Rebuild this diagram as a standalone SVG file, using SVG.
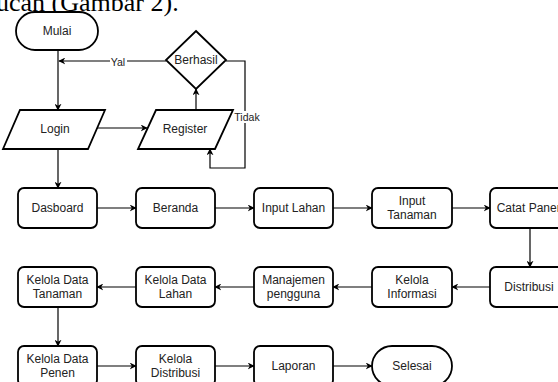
<svg xmlns="http://www.w3.org/2000/svg" width="558" height="382" viewBox="0 0 558 382">
<defs>
<style>
.n{fill:#fff;stroke:#000;stroke-width:1.8}
.t{font-family:"Liberation Sans",Arial,sans-serif;font-size:12px;fill:#222;text-anchor:middle;dominant-baseline:central}
.l{font-family:"Liberation Sans",Arial,sans-serif;font-size:10.5px;fill:#222;text-anchor:middle;dominant-baseline:central}
.c{fill:none;stroke:#000;stroke-width:1.2;marker-end:url(#a)}
</style>
<marker id="a" viewBox="0 0 10 10" refX="9" refY="5" markerWidth="7" markerHeight="7" markerUnits="userSpaceOnUse" orient="auto">
<path d="M0,0 L10,5 L0,10 L3,5 Z" fill="#000"/>
</marker>
</defs>
<rect width="558" height="382" fill="#fff"/>
<text x="-4" y="11" font-family="Liberation Serif,'Times New Roman',serif" font-size="26" fill="#000">ucan (Gambar 2).</text>

<g id="connectors">
<path class="c" d="M58,50 V110"/>
<path class="c" d="M166,61 H59"/>
<path class="c" d="M97,128 H147"/>
<path class="c" d="M196,110 V89"/>
<path class="c" d="M226,61 H245 V168 H210 V149"/>
<path class="c" d="M58,149 V188"/>
<path class="c" d="M97,208 H136"/>
<path class="c" d="M215,208 H254"/>
<path class="c" d="M333,208 H372"/>
<path class="c" d="M452,208 H490"/>
<path class="c" d="M530,228 V267"/>
<path class="c" d="M490,287 H452"/>
<path class="c" d="M372,287 H333"/>
<path class="c" d="M254,287 H215"/>
<path class="c" d="M136,287 H97"/>
<path class="c" d="M58,307 V346"/>
<path class="c" d="M97,366 H136"/>
<path class="c" d="M215,366 H254"/>
<path class="c" d="M333,366 H372"/>
<rect x="110" y="55" width="17" height="12" fill="#fff"/>
<text class="l" x="118" y="62">Yal</text>
<rect x="233" y="111" width="28" height="12" fill="#fff"/>
<text class="l" x="247" y="117">Tidak</text>
</g>

<g id="mulai"><rect class="n" x="16" y="12" width="82" height="38" rx="19"/><text class="t" x="57" y="31">Mulai</text></g>
<g id="berhasil"><polygon class="n" points="196,31 226,60 196,89 166,60"/><text class="t" x="196" y="60">Berhasil</text></g>
<g id="login"><polygon class="n" points="20,110 105,110 88,149 3,149"/><text class="t" x="55" y="129">Login</text></g>
<g id="register"><polygon class="n" points="156,110 233,110 215,149 138,149"/><text class="t" x="185" y="129">Register</text></g>

<g id="dasboard"><rect class="n" x="18" y="188" width="79" height="40" rx="6"/><text class="t" x="57.5" y="208">Dasboard</text></g>
<g id="beranda"><rect class="n" x="136" y="188" width="79" height="40" rx="6"/><text class="t" x="175.5" y="208">Beranda</text></g>
<g id="input-lahan"><rect class="n" x="254" y="188" width="79" height="40" rx="6"/><text class="t" x="293.5" y="208">Input Lahan</text></g>
<g id="input-tanaman"><rect class="n" x="372" y="188" width="80" height="40" rx="6"/><text class="t" x="412" y="201">Input</text><text class="t" x="412" y="215">Tanaman</text></g>
<g id="catat-panen"><rect class="n" x="490" y="188" width="80" height="40" rx="6"/><text class="t" x="530" y="208">Catat Panen</text></g>

<g id="kelola-data-tanaman"><rect class="n" x="18" y="267" width="79" height="40" rx="6"/><text class="t" x="57.5" y="280">Kelola Data</text><text class="t" x="57.5" y="294">Tanaman</text></g>
<g id="kelola-data-lahan"><rect class="n" x="136" y="267" width="79" height="40" rx="6"/><text class="t" x="175.5" y="280">Kelola Data</text><text class="t" x="175.5" y="294">Lahan</text></g>
<g id="manajemen-pengguna"><rect class="n" x="254" y="267" width="79" height="40" rx="6"/><text class="t" x="293.5" y="280">Manajemen</text><text class="t" x="293.5" y="294">pengguna</text></g>
<g id="kelola-informasi"><rect class="n" x="372" y="267" width="80" height="40" rx="6"/><text class="t" x="412" y="280">Kelola</text><text class="t" x="412" y="294">Informasi</text></g>
<g id="distribusi"><rect class="n" x="490" y="267" width="80" height="40" rx="6"/><text class="t" x="529" y="287">Distribusi</text></g>

<g id="kelola-data-penen"><rect class="n" x="18" y="346" width="79" height="40" rx="6"/><text class="t" x="57.5" y="359">Kelola Data</text><text class="t" x="57.5" y="373">Penen</text></g>
<g id="kelola-distribusi"><rect class="n" x="136" y="346" width="79" height="40" rx="6"/><text class="t" x="175.5" y="359">Kelola</text><text class="t" x="175.5" y="373">Distribusi</text></g>
<g id="laporan"><rect class="n" x="254" y="346" width="79" height="40" rx="6"/><text class="t" x="293.5" y="366">Laporan</text></g>
<g id="selesai"><rect class="n" x="372" y="346" width="80" height="40" rx="20"/><text class="t" x="412" y="366">Selesai</text></g>
</svg>
